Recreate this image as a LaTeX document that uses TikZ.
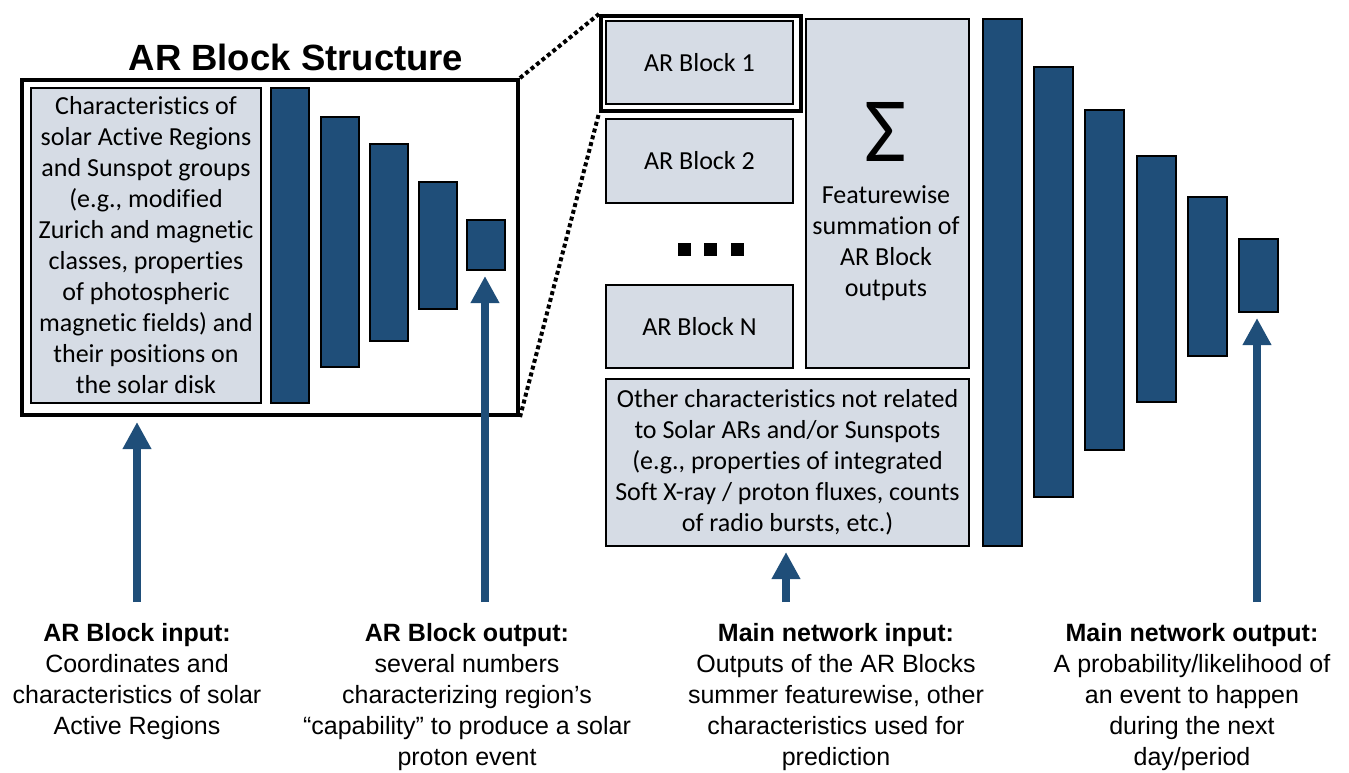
\documentclass[tikz,border=0pt]{standalone}
\usepackage{fontspec}
\setmainfont{Liberation Sans}
\newfontfamily\calibri[Ligatures={NoCommon}]{Carlito}
\usepackage{xcolor}
\definecolor{mygrey}{RGB}{214, 220, 229}
\definecolor{myblue}{RGB}{31, 78, 121}
\usetikzlibrary{arrows.meta,positioning}

\begin{document}
\begin{tikzpicture}[x=1pt, y=-1pt,
		BoxStyle/.style={draw, line width=2pt, fill=mygrey, anchor=north west, inner sep=0pt, align=center, font=\calibri\fontsize{26}{31}\selectfont},
		BarStyle/.style={draw, line width=2pt, fill=myblue, anchor=north west, inner sep=0pt},
		FrameStyle/.style={draw, line width=4pt, anchor=north west, inner sep=0pt},
		DotStyle/.style={line width=4pt, dash pattern=on 4pt off 3pt},
		ArrowStyle/.style={draw=myblue, line width=8pt, -{Triangle[length=27pt, width=27pt]}, shorten >=5pt},
		LabelStyle/.style={anchor=north, align=center, inner sep=0pt, font=\fontsize{25}{31}\selectfont}]
		\useasboundingbox (0,0) rectangle (1349,772);
		\node[FrameStyle, minimum width=496, minimum height=335] (arframe) at (20,78) {};
		\node[font=\bfseries\fontsize{36.5}{40}\selectfont] (title) at (296,57) {AR Block Structure};
		\node[BoxStyle, minimum width=230, minimum height=315] (arinput) at (30,87) {Characteristics of\\solar Active Regions\\and Sunspot groups\\(e.g., modified\\Zurich and magnetic\\classes, properties\\of photospheric\\magnetic fields) and\\their positions on\\the solar disk};
		\foreach \x/\t/\b [count=\i] in {270/87/402, 320/116/366, 369/143/340, 418/181/308, 466/219/269} {
			\pgfmathsetmacro\h{\b-\t}
			\node[BarStyle, minimum width=38, minimum height=\h] (lbar\i) at (\x,\t) {};
		}
		\node[FrameStyle, minimum width=200, minimum height=95] (blkframe) at (599,14) {};
		\node[BoxStyle, minimum width=187, minimum height=83] (blk1) at (605,20) {AR Block 1};
		\node[BoxStyle, minimum width=187, minimum height=84] (blk2) at (605,118) {AR Block 2};
		\foreach \x [count=\i] in {684,710,737}
			\node[fill, minimum size=13, inner sep=0pt] (dot\i) at (\x,249) {};
		\node[BoxStyle, minimum width=187, minimum height=83] (blkN) at (605,284) {AR Block N};
		\node[BoxStyle, minimum width=163, minimum height=349] (sumbox) at (805,18) {};
		\node[font=\calibri\fontsize{92}{92}\selectfont] (sigma) at (886,132) {Σ};
		\node[align=center, font=\calibri\fontsize{26}{31}\selectfont] (sumtext) at (886,243) {Featurewise\\summation of\\AR Block\\outputs};
		\node[BoxStyle, minimum width=363, minimum height=167] (other) at (605,378) {Other characteristics not related\\to Solar ARs and/or Sunspots\\(e.g., properties of integrated\\Soft X-ray / proton fluxes, counts\\of radio bursts, etc.)};
		\foreach \x/\t/\b [count=\i] in {982/18/545, 1033/66/496, 1084/109/449, 1136/155/401, 1187/196/355, 1238/238/311} {
			\pgfmathsetmacro\h{\b-\t}
			\node[BarStyle, minimum width=39, minimum height=\h] (rbar\i) at (\x,\t) {};
		}
		\draw[DotStyle] (arframe.north east) -- (blkframe.north west);
		\draw[DotStyle] (arframe.south east) -- (blkframe.south west);
		\node[LabelStyle] (lab1) at (137,623) {\textbf{AR Block input:}\\Coordinates and\\characteristics of solar\\Active Regions};
		\node[LabelStyle] (lab2) at (467,623) {\textbf{AR Block output:}\\several numbers\\characterizing region’s\\“capability” to produce a solar\\proton event};
		\node[LabelStyle] (lab3) at (836,623) {\textbf{Main network input:}\\Outputs of the AR Blocks\\summer featurewise, other\\characteristics used for\\prediction};
		\node[LabelStyle] (lab4) at (1192,623) {\textbf{Main network output:}\\A probability/likelihood of\\an event to happen\\during the next\\day/period};
		\coordinate (in1) at (137,602);
		\coordinate (out1) at (485,602);
		\coordinate (in2) at (786,602);
		\coordinate (out2) at (1257,602);
		\draw[ArrowStyle] (in1) -- (in1 |- arframe.south);
		\draw[ArrowStyle] (out1) -- (out1 |- lbar5.south);
		\draw[ArrowStyle] (in2) -- (in2 |- other.south);
		\draw[ArrowStyle] (out2) -- (out2 |- rbar6.south);
	\end{tikzpicture}
\end{document}
